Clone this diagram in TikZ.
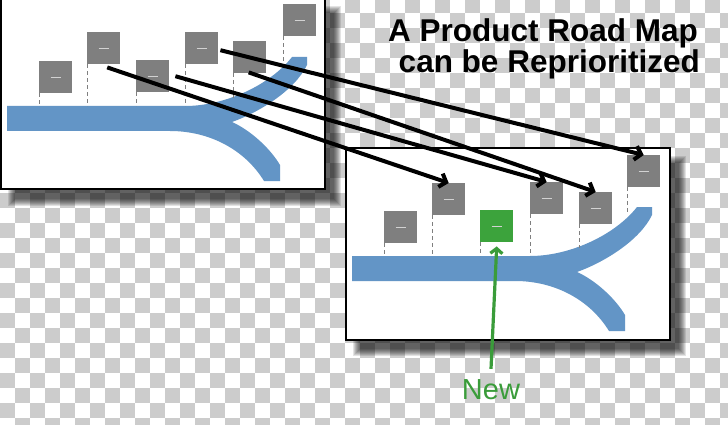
\documentclass[tikz,border=0pt]{standalone}
\usepackage{fontspec}
\setmainfont{Liberation Sans}
\usetikzlibrary{arrows.meta,calc}
\definecolor{roadblue}{RGB}{99,149,198}
\definecolor{boxgray}{RGB}{127,127,127}
\definecolor{boxgreen}{RGB}{60,163,60}
\definecolor{newgreen}{RGB}{58,156,58}
\definecolor{checkgray}{RGB}{204,204,204}
\begin{document}
\begin{tikzpicture}[x=1pt,y=-1pt,
  box/.style={fill=boxgray, minimum width=33pt, minimum height=32pt, inner sep=0pt, anchor=north west,
    path picture={\draw[white!65!gray,line width=0.5pt] ([xshift=-5pt]path picture bounding box.center) -- ([xshift=5pt]path picture bounding box.center);}},
  greenbox/.style={box, fill=boxgreen},
  dashline/.style={draw=boxgray, line width=1pt, dash pattern=on 4pt off 3pt},
  panel/.style={fill=white, draw=black, line width=2pt},
  road/.style={fill=roadblue},
  moveline/.style={draw=black, line width=4pt, -{Straight Barb[length=6pt,width=14pt]}},
  newline/.style={draw=newgreen, line width=3.2pt, -{Straight Barb[length=5pt,width=12pt]}},
  shadowlayer/.style={fill=black, opacity=0.11}
]
\useasboundingbox (0,0) rectangle (728,425);
\clip (0,0) rectangle (728,425);
% checkerboard background
\fill[white] (0,0) rectangle (728,425);
\foreach \c in {0,...,48} {
  \foreach \k in {-1,...,28} {
    \pgfmathtruncatemacro{\parity}{mod(\c+\k+100,2)}
    \ifnum\parity=0 \fill[checkgray] (\c*15, 13.3+\k*15) rectangle ++(15,15); \fi
  }
}
% shadows
\foreach \sx/\sy in {0/0,345/150} {
  \foreach \i in {0,...,7} {
    \fill[shadowlayer] (\sx+8+\i, \sy-2+8+\i) rectangle (\sx+325+16-\i, \sy+189+17-\i);
  }
}
% panels
\draw[panel] (1,-2) rectangle (325,189);
\draw[panel] (345.5,148) rectangle (670,339.5);
% roads
\foreach \sx/\sy in {0/0,345/150} {
  \fill[road, shift={(\sx,\sy)}] (7,106) -- (185,106) .. controls (225,106) and (270,85) .. (292,57)
    -- (307,57) -- (307,65) .. controls (295,90) and (260,112) .. (232,122)
    .. controls (250,130) and (270,148) .. (280,165) -- (280,181) -- (264,181)
    .. controls (245,150) and (210,131) .. (170,131) -- (7,131) -- cycle;
}
% left boxes
\node[box] (l1) at (39,61) {};
\node[box] (l2) at (87,32) {};
\node[box] (l3) at (136,60) {};
\node[box] (l4) at (185,32) {};
\node[box] (l5) at (233,41) {};
\node[box] (l6) at (283,4) {};
% right boxes
\node[box] (r1) at (384,211) {};
\node[box] (r2) at (432,183) {};
\node[greenbox] (r3) at (480,210) {};
\node[box] (r4) at (530,182) {};
\node[box] (r5) at (579,192) {};
\node[box] (r6) at (627,155) {};
% dashed stems
\draw[dashline] (l1.south west) -- ++(0,13);
\draw[dashline] (l2.south west) -- ++(0,42);
\draw[dashline] (l3.south west) -- ++(0,14);
\draw[dashline] (l4.south west) -- ++(0,42);
\draw[dashline] (l5.south west) -- ++(0,25);
\draw[dashline] (l6.south west) -- ++(0,26);
\draw[dashline] (r1.south west) -- ++(0,13);
\draw[dashline] (r2.south west) -- ++(0,41);
\draw[dashline] (r3.south west) -- ++(0,14);
\draw[dashline] (r4.south west) -- ++(0,42);
\draw[dashline] (r5.south west) -- ++(0,24);
\draw[dashline] (r6.south west) -- ++(0,26);
% reprioritization arrows
\draw[moveline] ($(l2.south)+(3.5,3)$) -- (r2.north);
\draw[moveline] ($(l3.east)+(6,0)$) -- (r4.north);
\draw[moveline] ($(l5.south)+(-1,-1)$) -- (r5.north);
\draw[moveline] ($(l4.east)+(2,2)$) -- (r6.north);
% title
\node[anchor=base east, font=\fontsize{31.5}{31.5}\selectfont\bfseries, inner sep=0pt] (t1) at (698,42) {A Product Road Map};
\node[anchor=base east, font=\fontsize{31.5}{31.5}\selectfont\bfseries, inner sep=0pt] (t2) at (700,73) {can be Reprioritized};
% new label
\node[anchor=base, font=\fontsize{29}{29}\selectfont, text=newgreen, inner sep=0pt] (new) at (491,399) {New};
\draw[newline] ([yshift=10pt]new.north) -- ([yshift=-4pt]r3.south);
\end{tikzpicture}
\end{document}
